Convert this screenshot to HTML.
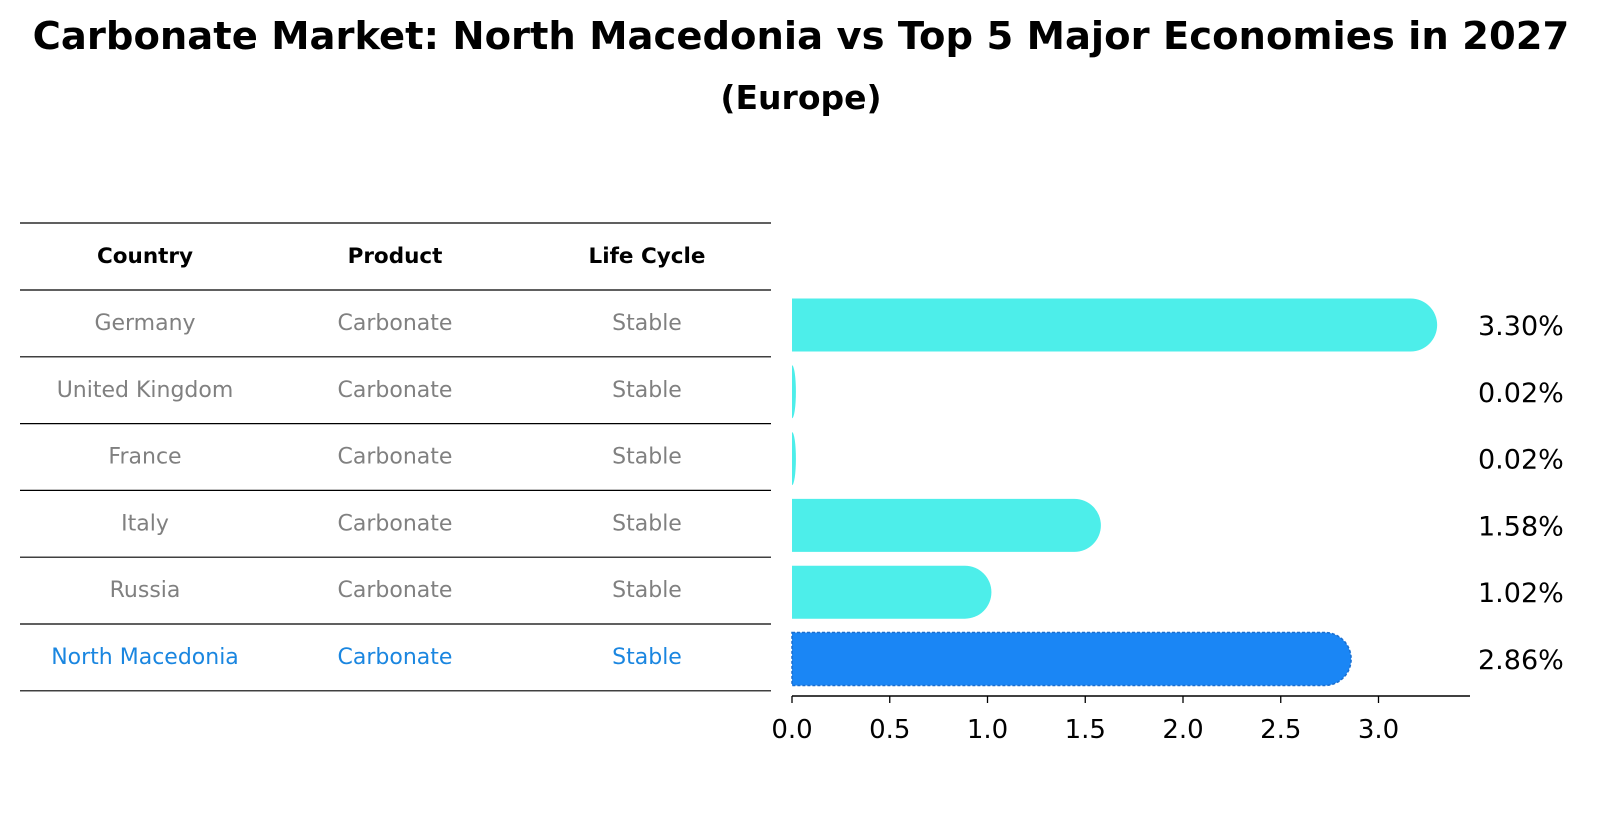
<!DOCTYPE html>
<html><head><meta charset="utf-8"><style>
body{margin:0;background:#fff;font-family:"DejaVu Sans","Liberation Sans",sans-serif;}
#wrap{position:relative;width:1602px;height:823px;overflow:hidden;}
.t{position:absolute;white-space:nowrap;}
</style></head><body>
<div id="wrap">
<div class="t" style="left:0;width:1602px;text-align:center;top:14px;font-size:38.5px;font-weight:bold;">Carbonate Market: North Macedonia vs Top 5 Major Economies in 2027</div>
<div class="t" style="left:0;width:1602px;text-align:center;top:78px;font-size:33px;font-weight:bold;">(Europe)</div>
<svg id="svg" width="1602" height="823" style="position:absolute;left:0;top:0"></svg>
</div>
<script>
const countries=["Germany","United Kingdom","France","Italy","Russia","North Macedonia"];
const products=["Carbonate","Carbonate","Carbonate","Carbonate","Carbonate","Carbonate"];
const lifecycle=["Stable","Stable","Stable","Stable","Stable","Stable"];
const values=[3.30,0.02,0.02,1.58,1.02,2.86];
const labels=["3.30%","0.02%","0.02%","1.58%","1.02%","2.86%"];
const ticks=[0,0.5,1.0,1.5,2.0,2.5,3.0];
const tickLabels=["0.0","0.5","1.0","1.5","2.0","2.5","3.0"];
const NS="http://www.w3.org/2000/svg";
const svg=document.getElementById('svg');
const X0=792,UNIT=195.5,ROW0=325,ROWH=66.8,BH=53,R=26.5;
const xs=v=>X0+v*UNIT;
const ys=i=>ROW0+i*ROWH;
function mk(tag,attrs,txt){const e=document.createElementNS(NS,tag);for(const k in attrs)e.setAttribute(k,attrs[k]);if(txt!==undefined)e.textContent=txt;svg.appendChild(e);return e;}
const lines=[223,290];for(let i=1;i<=countries.length;i++)lines.push(290+i*66.8);
lines.forEach((y,i)=>{const l=mk('line',{x1:20,x2:771,y1:y,y2:y,stroke:'#000','stroke-width':1.2});

});
const cols=[145,395,647];
["Country","Product","Life Cycle"].forEach((h,j)=>{const t=mk('text',{x:cols[j],y:263,'text-anchor':'middle','font-size':21.5,'font-weight':'bold',fill:'#000'},h);

});
countries.forEach((c,i)=>{const y=ys(i)+5;const col=i===countries.length-1?'#1a86e0':'#808080';
[c,products[i],lifecycle[i]].forEach((v,j)=>{const t=mk('text',{x:cols[j],y:y,'text-anchor':'middle','font-size':22,fill:col},v);

});});
values.forEach((v,i)=>{const last=i===values.length-1;const w=xs(v)-X0;const y=ys(i)-BH/2;const r=Math.min(R,w);
const p=mk('path',{d:`M${X0},${y}H${X0+w-r}A${r},${BH/2} 0 0 1 ${X0+w-r},${y+BH}H${X0}Z`,fill:last?'#1a86f5':'#4deeea',stroke:last?'#1a6fd0':'none','stroke-width':last?1.5:0,'stroke-dasharray':last?'3,2':'none'});


const t=mk('text',{x:1478,y:ys(i)+10,'font-size':27,fill:'#000'},labels[i]);

});
const ax=mk('line',{x1:X0,x2:1470,y1:696,y2:696,stroke:'#000','stroke-width':1.5});


ticks.forEach((v,i)=>{const tk=mk('line',{x1:xs(v),x2:xs(v),y1:696,y2:703,stroke:'#000','stroke-width':1.3});


const t=mk('text',{x:xs(v),y:738,'text-anchor':'middle','font-size':26,fill:'#000'},tickLabels[i]);

});
</script>
</body></html>
